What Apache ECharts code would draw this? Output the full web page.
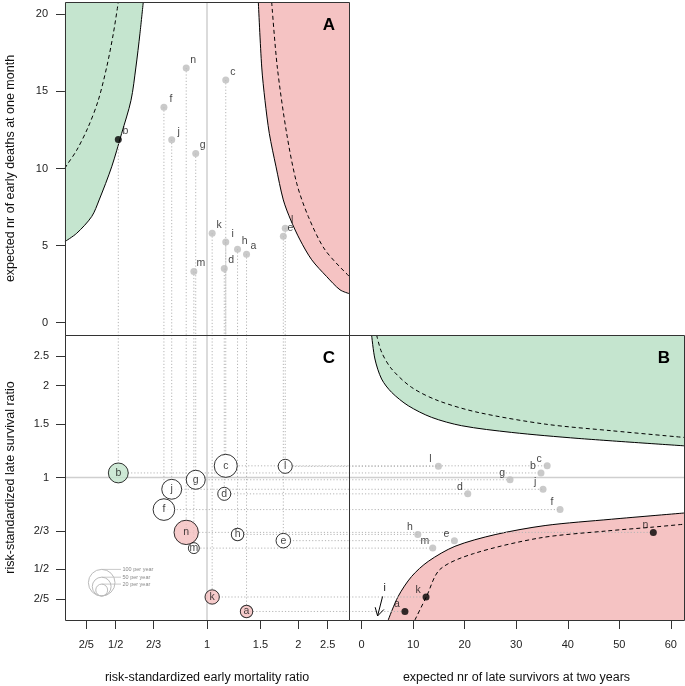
<!DOCTYPE html>
<html><head><meta charset="utf-8">
<script src="https://cdn.jsdelivr.net/npm/echarts@6/dist/echarts.min.js"></script>
<style>html,body{margin:0;padding:0;background:#fff}#c{width:685px;height:686px}</style>
</head><body><div id="c"></div>
<script>
// ---------- data ----------
const units = ['a','b','c','d','e','f','g','h','i','j','k','l','m','n'];
const earlyRatio = [1.350,0.510,1.153,1.140,1.785,0.721,0.918,1.261,1.153,0.765,1.040,1.811,0.905,0.854];
const expEarlyDeaths = [4.44,11.88,15.74,3.51,5.61,13.97,10.97,4.77,5.24,11.86,5.80,6.13,3.32,16.52];
const lateRatio = [0.364,1.035,1.092,0.884,0.621,0.785,0.983,0.651,null,0.915,0.406,1.088,0.587,0.661];
const expLateSurvivors = [8.4,34.8,36.0,20.6,18.0,38.5,28.8,10.9,3.1,35.2,12.5,14.9,13.8,56.6];
const volumePerYear = [22,56,75,24,30,66,51,22,null,56,29,28,17,84];
const earlyFlag = ['','low','','','','','','','','','','','',''];
const lateFlag  = ['low','','','','','','','','low','','low','','','low'];

const ratioTicks = [0.4,0.5,2/3,1,1.5,2,2.5];
const ratioTickLabels = ['2/5','1/2','2/3','1','1.5','2','2.5'];
const deathTicks = [0,5,10,15,20];
const survivorTicks = [0,10,20,30,40,50,60];
const legendVolumes = [100,50,20];
const legendLabels = ['100 per year','50 per year','20 per year'];

// control limits, panel A: [ratio, expected early deaths]
const aLowSolid = [[0.340,5.26],[0.372,5.80],[0.4166,6.88],[0.441,7.96],[0.485,10.11],[0.523,12.27],[0.5616,14.42],[0.583,16.58],[0.601,18.74],[0.6165,20.8]];
const aLowDashed = [[0.340,10.0],[0.345,10.22],[0.372,11.19],[0.406,12.70],[0.438,14.42],[0.467,16.58],[0.491,18.74],[0.510,20.8]];
const aHighSolid = [[1.4765,20.8],[1.515,16.58],[1.553,14.42],[1.605,12.27],[1.689,10.11],[1.785,7.96],[1.888,6.66],[2.026,5.37],[2.214,4.08],[2.48,2.99],[2.745,2.13],[2.95,1.88]];
const aHighDashed = [[1.634,20.8],[1.705,16.58],[1.831,12.27],[1.976,9.04],[2.158,6.88],[2.45,4.72],[2.95,2.99]];
// control limits, panel B: [expected late survivors, ratio]
const bHighSolid = [[1.94,2.93],[2.58,2.445],[3.88,2.102],[5.82,1.901],[9.04,1.719],[13.58,1.574],[19.4,1.478],[29.1,1.405],[42.0,1.343],[62.55,1.270]];
const bHighDashed = [[2.91,2.93],[3.88,2.573],[5.82,2.268],[9.70,1.974],[14.86,1.785],[22.6,1.634],[35.6,1.496],[48.5,1.423],[62.55,1.353]];
const bLowSolid = [[5.16,0.3413],[7.1,0.408],[9.70,0.474],[12.92,0.531],[18.1,0.595],[25.9,0.650],[35.6,0.696],[48.5,0.730],[62.55,0.765]];
const bLowDashed = [[10.34,0.3413],[12.6,0.408],[15.2,0.50],[21.7,0.563],[34.6,0.634],[47.5,0.668],[56.6,0.688],[62.55,0.703]];

// ---------- layout / style ----------
const LN = Math.log;
const FONT = "'Liberation Sans', Arial, Helvetica, sans-serif";
const xLim = 1.078, yLim = 1.075;
const aYMin = -0.8, aYMax = 20.8, bXMin = -2.45, bXMax = 62.55;
const GREEN = '#c5e5cf', RED = '#f5c3c3', GREEN_B = '#c2e3cc', RED_B = '#f4bebe';
const DOT_GRAY = '#bdbdbd', DOTTED = '#b5b5b5', REF = '#cfcfcf';
const R100 = 13.3;
const volRadius = v => R100 * Math.sqrt(v / 100);

const gA = {left:65, top:2, width:284, height:333};
const gC = {left:65, top:335, width:284, height:285};
const gB = {left:349, top:335, width:335, height:285};

function ratioLabel(v){
  for (let i = 0; i < ratioTicks.length; i++) if (Math.abs(LN(ratioTicks[i]) - v) < 1e-4) return ratioTickLabels[i];
  return '';
}

function segSeries(ai, segs, stroke, width, dash, z){
  return {
    type:'custom', xAxisIndex:ai, yAxisIndex:ai, z:z, silent:true,
    dimensions:['x1','y1','x2','y2'], encode:{x:[0,2], y:[1,3]},
    data: segs,
    renderItem: (params, api) => {
      const p1 = api.coord([api.value(0), api.value(1)]);
      const p2 = api.coord([api.value(2), api.value(3)]);
      return {type:'line', shape:{x1:p1[0], y1:p1[1], x2:p2[0], y2:p2[1]},
              style:{stroke:stroke, lineWidth:width, lineDash:dash}};
    }
  };
}

function curveSeries(ai, pts, mapper, dashed, fill, origin){
  const s = {
    type:'line', xAxisIndex:ai, yAxisIndex:ai, silent:true, symbol:'none',
    smooth:0.3, clip:true,
    data: pts.map(mapper),
    lineStyle:{color:'#000', width:1, type: dashed ? [4,3] : 'solid'},
    z: dashed ? 4 : 1
  };
  if (fill) s.areaStyle = {color:fill, opacity:1, origin:origin};
  return s;
}
const mapA = p => [LN(p[0]), p[1]];
const mapB = p => [p[0], LN(p[1])];

// segments
const segAvert = [], segCvert = [], segChor = [], segBhor = [];
units.forEach((u, i) => {
  const x = LN(earlyRatio[i]);
  segAvert.push([x, expEarlyDeaths[i], x, aYMin]);
  if (lateRatio[i] != null) {
    const y = LN(lateRatio[i]);
    segCvert.push([x, yLim, x, y]);
    segChor.push([x, y, xLim, y]);
    segBhor.push([bXMin, y, expLateSurvivors[i], y]);
  }
});

// dots
const dotsA = units.map((u, i) => ({
  name:u, value:[LN(earlyRatio[i]), expEarlyDeaths[i]],
  itemStyle:{color: earlyFlag[i] ? '#000' : DOT_GRAY}
}));
const dotsB = units.map((u, i) => lateRatio[i] == null ? null : ({
  name:u, value:[expLateSurvivors[i], LN(lateRatio[i])],
  itemStyle:{color: lateFlag[i] ? '#000' : DOT_GRAY}
})).filter(d => d);
const order = units.map((u,i)=>i).filter(i => lateRatio[i] != null)
  .sort((p, q) => volumePerYear[q] - volumePerYear[p]);
const bubbles = order.map(i => ({
  name:units[i], value:[LN(earlyRatio[i]), LN(lateRatio[i])],
  symbolSize: 2 * volRadius(volumePerYear[i]),
  itemStyle:{color: earlyFlag[i] ? GREEN_B : (lateFlag[i] ? RED_B : '#fff'), borderColor:'#000', borderWidth:1}
}));

// off-scale arrow for units whose late ratio is below the axis
const offscale = units.map((u,i)=>i).filter(i => lateRatio[i] == null)
  .map(i => ({name:units[i], value:[expLateSurvivors[i], LN(0.352)]}));

const axisLabelBase = {fontSize:11, color:'#222', fontFamily:FONT};
const nameStyle = {fontSize:12.5, color:'#111', fontFamily:FONT};
const tickStyle = {show:true, length:9, lineStyle:{color:'#333', width:1}};
const noLine = {show:false, onZero:false};

const option = {
  animation:false,
  backgroundColor:'#fff',
  grid:[gA, gC, gB].map(g => Object.assign({containLabel:false, show:false}, g)),
  xAxis:[
    {gridIndex:0, type:'value', position:'bottom', min:-xLim, max:xLim, axisLine:noLine, axisTick:{show:false}, axisLabel:{show:false}, splitLine:{show:false}},
    {gridIndex:1, type:'value', position:'bottom', min:-xLim, max:xLim, axisLine:noLine, splitLine:{show:false},
     axisTick:Object.assign({customValues:ratioTicks.map(LN)}, tickStyle),
     axisLabel:Object.assign({customValues:ratioTicks.map(LN), formatter:ratioLabel, margin:19}, axisLabelBase),
     name:'risk-standardized early mortality ratio', nameLocation:'middle', nameGap:51, nameTextStyle:nameStyle},
    {gridIndex:2, type:'value', position:'bottom', min:bXMin, max:bXMax, axisLine:noLine, splitLine:{show:false},
     axisTick:Object.assign({customValues:survivorTicks}, tickStyle),
     axisLabel:Object.assign({customValues:survivorTicks, margin:19}, axisLabelBase),
     name:'expected nr of late survivors at two years', nameLocation:'middle', nameGap:51, nameTextStyle:nameStyle}
  ],
  yAxis:[
    {gridIndex:0, type:'value', position:'left', min:aYMin, max:aYMax, axisLine:noLine, splitLine:{show:false},
     axisTick:Object.assign({customValues:deathTicks}, tickStyle),
     axisLabel:Object.assign({customValues:deathTicks, margin:17}, axisLabelBase),
     name:'expected nr of early deaths at one month', nameLocation:'middle', nameGap:48, nameTextStyle:nameStyle},
    {gridIndex:1, type:'value', position:'left', min:-yLim, max:yLim, axisLine:noLine, splitLine:{show:false},
     axisTick:Object.assign({customValues:ratioTicks.map(LN)}, tickStyle),
     axisLabel:Object.assign({customValues:ratioTicks.map(LN), formatter:ratioLabel, margin:16}, axisLabelBase),
     name:'risk-standardized late survival ratio', nameLocation:'middle', nameGap:48, nameTextStyle:nameStyle},
    {gridIndex:2, type:'value', position:'left', min:-yLim, max:yLim, axisLine:noLine, axisTick:{show:false}, axisLabel:{show:false}, splitLine:{show:false}}
  ],
  series:[
    // funnel regions and limits
    curveSeries(0, aLowSolid, mapA, false, GREEN, 'end'),
    curveSeries(0, aHighSolid, mapA, false, RED, 'end'),
    curveSeries(0, aLowDashed, mapA, true),
    curveSeries(0, aHighDashed, mapA, true),
    curveSeries(2, bHighSolid, mapB, false, GREEN, 'end'),
    curveSeries(2, bLowSolid, mapB, false, RED, 'start'),
    curveSeries(2, bHighDashed, mapB, true),
    curveSeries(2, bLowDashed, mapB, true),
    // reference lines at ratio 1
    segSeries(0, [[0, aYMin, 0, aYMax]], REF, 1.5, null, 2),
    segSeries(1, [[0, -yLim, 0, yLim], [-xLim, 0, xLim, 0]], REF, 1.5, null, 2),
    segSeries(2, [[bXMin, 0, bXMax, 0]], REF, 1.5, null, 2),
    // dotted connectors
    segSeries(0, segAvert, DOTTED, 1, [1.2, 2], 3),
    segSeries(1, segCvert.concat(segChor), DOTTED, 1, [1.2, 2], 3),
    segSeries(2, segBhor, DOTTED, 1, [1.2, 2], 3),
    // panel A dots
    {type:'scatter', xAxisIndex:0, yAxisIndex:0, z:6, symbolSize:7, data:dotsA,
     label:{show:true, position:'inside', offset:[7,-8], formatter:'{b}', fontSize:10.5, color:'#111', fontFamily:FONT}},
    // panel B dots
    {type:'scatter', xAxisIndex:2, yAxisIndex:2, z:6, symbolSize:7, data:dotsB,
     label:{show:true, position:'inside', offset:[-8,-7], formatter:'{b}', fontSize:10.5, color:'#111', fontFamily:FONT}},
    // panel C bubbles
    {type:'scatter', xAxisIndex:1, yAxisIndex:1, z:6, data:bubbles,
     label:{show:true, position:'inside', formatter:'{b}', fontSize:10.5, color:'#111', fontFamily:FONT}},
    // off-scale arrow (panel B)
    {type:'custom', xAxisIndex:2, yAxisIndex:2, z:6, silent:true, data:offscale.map(d => d.value),
     renderItem:(params, api) => {
       const tip = api.coord([api.value(0), api.value(1)]);
       const dx = 5, dy = -19.5;
       const L = Math.hypot(dx, dy), ux = dx / L, uy = dy / L, a = Math.PI / 6, h = 9;
       const rot = (t) => [tip[0] + h * (ux * Math.cos(t) - uy * Math.sin(t)), tip[1] + h * (ux * Math.sin(t) + uy * Math.cos(t))];
       const l1 = rot(a), l2 = rot(-a);
       const st = {stroke:'#000', lineWidth:1, fill:null};
       return {type:'group', children:[
         {type:'line', shape:{x1:tip[0], y1:tip[1], x2:tip[0]+dx, y2:tip[1]+dy}, style:st},
         {type:'polyline', shape:{points:[l1, tip, l2]}, style:st},
         {type:'text', x:tip[0]+dx+2, y:tip[1]+dy-3, style:{text:offscale[params.dataIndex].name, fontSize:10.5, fill:'#111', fontFamily:FONT, align:'center', verticalAlign:'bottom'}}
       ]};
     }}
  ],
  graphic:[]
};

// frames
[gA, gC, gB].forEach(g => option.graphic.push({type:'rect', z:100, silent:true,
  shape:{x:g.left + 0.5, y:g.top + 0.5, width:g.width, height:g.height},
  style:{fill:null, stroke:'#333', lineWidth:1}}));
// panel letters
[['A', gA], ['C', gC], ['B', gB]].forEach(([t, g]) => option.graphic.push({type:'text', z:100,
  x:g.left + g.width - 20, y:g.top + 23, style:{text:t, font:'bold 17px ' + FONT, fill:'#000', align:'center', verticalAlign:'middle'}}));
// bubble-size legend (panel C)
const legCx = 101.7, legBottom = 596;
legendVolumes.forEach((v, k) => {
  const r = volRadius(v);
  option.graphic.push({type:'circle', z:90, silent:true, shape:{cx:legCx, cy:legBottom - r, r:r}, style:{fill:null, stroke:'#bbb', lineWidth:1}});
  const ty = legBottom - 2 * r;
  option.graphic.push({type:'line', z:90, silent:true, shape:{x1:legCx, y1:ty, x2:121, y2:ty}, style:{stroke:'#bbb', lineWidth:0.8}});
  option.graphic.push({type:'text', z:90, silent:true, x:122.5, y:ty, style:{text:legendLabels[k], fontSize:5.5, fill:'#888', fontFamily:FONT, verticalAlign:'middle'}});
});

const chart = echarts.init(document.getElementById('c'), null, {renderer:'canvas'});
chart.setOption(option);
</script></body></html>
